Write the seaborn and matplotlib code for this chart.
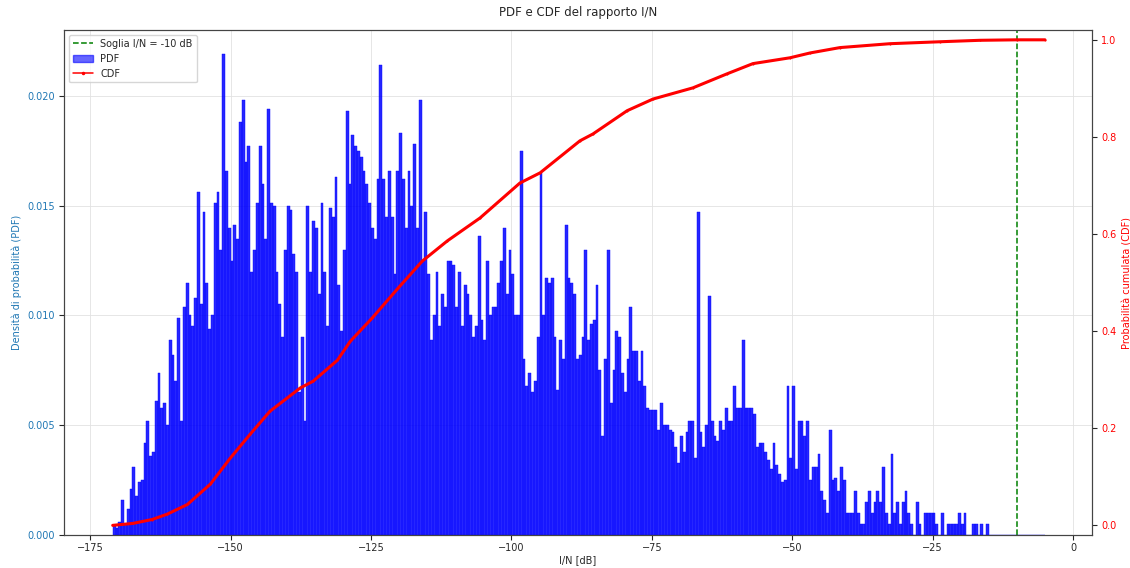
import numpy as np
import pandas as pd
import matplotlib
matplotlib.use("Agg")
import matplotlib.pyplot as plt
from matplotlib.lines import Line2D
from matplotlib.patches import Patch
import seaborn as sns

# Histogram of I/N: bins of 0.5 dB starting at -171 dB (density values)
bin_start = -171.0
bin_width = 0.5
pdf_density = [
    0.0004, 0.0003, 0.0006, 0.0016, 0.0005, 0.0012, 0.0021, 0.0031, 0.0018, 0.0024,
    0.0025, 0.0042, 0.0052, 0.0036, 0.0038, 0.0061, 0.0074, 0.0058, 0.0060, 0.0050,
    0.0089, 0.0082, 0.0070, 0.0099, 0.0052, 0.0104, 0.0115, 0.0100, 0.0095, 0.0108,
    0.0156, 0.0105, 0.0147, 0.0115, 0.0094, 0.0100, 0.0151, 0.0156, 0.0130, 0.0219,
    0.0166, 0.0140, 0.0125, 0.0141, 0.0135, 0.0188, 0.0198, 0.0170, 0.0177, 0.0120,
    0.0130, 0.0151, 0.0177, 0.0160, 0.0135, 0.0194, 0.0151, 0.0150, 0.0120, 0.0105,
    0.0090, 0.0130, 0.0150, 0.0148, 0.0128, 0.0120, 0.0065, 0.0090, 0.0052, 0.0150,
    0.0120, 0.0143, 0.0140, 0.0110, 0.0151, 0.0120, 0.0095, 0.0149, 0.0145, 0.0163,
    0.0114, 0.0093, 0.0130, 0.0193, 0.0160, 0.0182, 0.0177, 0.0175, 0.0172, 0.0166,
    0.0160, 0.0151, 0.0140, 0.0135, 0.0162, 0.0214, 0.0162, 0.0145, 0.0166, 0.0145,
    0.0119, 0.0166, 0.0183, 0.0162, 0.0140, 0.0166, 0.0150, 0.0178, 0.0140, 0.0198,
    0.0125, 0.0147, 0.0119, 0.0089, 0.0100, 0.0120, 0.0095, 0.0110, 0.0104, 0.0125,
    0.0125, 0.0123, 0.0104, 0.0120, 0.0095, 0.0114, 0.0110, 0.0100, 0.0090, 0.0095,
    0.0136, 0.0098, 0.0089, 0.0125, 0.0100, 0.0104, 0.0104, 0.0115, 0.0125, 0.0140,
    0.0110, 0.0130, 0.0119, 0.0100, 0.0100, 0.0175, 0.0080, 0.0068, 0.0074, 0.0065,
    0.0070, 0.0090, 0.0165, 0.0100, 0.0117, 0.0115, 0.0117, 0.0090, 0.0066, 0.0089,
    0.0080, 0.0141, 0.0117, 0.0115, 0.0110, 0.0080, 0.0082, 0.0090, 0.0130, 0.0089,
    0.0096, 0.0098, 0.0114, 0.0075, 0.0045, 0.0080, 0.0130, 0.0060, 0.0075, 0.0093,
    0.0090, 0.0074, 0.0065, 0.0080, 0.0104, 0.0084, 0.0084, 0.0070, 0.0084, 0.0068,
    0.0058, 0.0057, 0.0057, 0.0057, 0.0048, 0.0060, 0.0050, 0.0050, 0.0048, 0.0047,
    0.0040, 0.0033, 0.0045, 0.0038, 0.0047, 0.0052, 0.0052, 0.0035, 0.0147, 0.0047,
    0.0040, 0.0050, 0.0109, 0.0052, 0.0045, 0.0043, 0.0052, 0.0048, 0.0058, 0.0052,
    0.0052, 0.0068, 0.0058, 0.0058, 0.0089, 0.0058, 0.0058, 0.0058, 0.0055, 0.0040,
    0.0042, 0.0042, 0.0038, 0.0034, 0.0030, 0.0042, 0.0032, 0.0028, 0.0024, 0.0025,
    0.0068, 0.0035, 0.0068, 0.0030, 0.0052, 0.0052, 0.0045, 0.0052, 0.0025, 0.0031,
    0.0031, 0.0037, 0.0020, 0.0016, 0.0010, 0.0048, 0.0025, 0.0026, 0.0020, 0.0031,
    0.0025, 0.0010, 0.0010, 0.0010, 0.0020, 0.0010, 0.0005, 0.0005, 0.0015, 0.0020,
    0.0010, 0.0015, 0.0020, 0.0015, 0.0031, 0.0010, 0.0005, 0.0037, 0.0010, 0.0015,
    0.0005, 0.0015, 0.0020, 0.0010, 0.0005, 0.0000, 0.0015, 0.0005, 0.0000, 0.0010,
    0.0010, 0.0010, 0.0010, 0.0005, 0.0000, 0.0010, 0.0000, 0.0005, 0.0005, 0.0005,
    0.0005, 0.0010, 0.0005, 0.0010, 0.0000, 0.0000, 0.0005, 0.0005, 0.0000, 0.0005,
    0.0000, 0.0005, 0.0000, 0.0000, 0.0000, 0.0000, 0.0000, 0.0000, 0.0000, 0.0000,
    0.0000, 0.0000, 0.0000, 0.0000, 0.0000, 0.0000, 0.0000, 0.0000, 0.0000, 0.0000,
    0.0000, 0.0000,
]

# Empirical CDF of I/N
cdf_x = [-171.0, -167.4, -164.0, -161.3, -157.7, -153.6, -150.1, -146.5, -143.0,
         -137.6, -135.3, -131.0, -128.7, -124.8, -120.3, -115.9, -111.4, -105.6,
         -98.5, -94.9, -87.8, -85.5, -79.4, -74.8, -67.7, -61.6, -57.0, -50.4,
         -46.8, -41.5, -32.6, -23.7, -16.6, -10.0, -5.0]
cdf_y = [0.000, 0.004, 0.012, 0.023, 0.043, 0.085, 0.138, 0.188, 0.235,
         0.283, 0.297, 0.340, 0.379, 0.427, 0.487, 0.544, 0.586, 0.633,
         0.705, 0.726, 0.792, 0.806, 0.854, 0.878, 0.901, 0.930, 0.951, 0.963,
         0.973, 0.984, 0.992, 0.996, 0.999, 1.000, 1.000]

threshold_db = -10

n_bins = len(pdf_density)
bin_end = bin_start + bin_width * n_bins
centers = bin_start + bin_width * (np.arange(n_bins) + 0.5)
hist_df = pd.DataFrame({"IN": centers, "pdf": pdf_density})
cdf_df = pd.DataFrame({"IN": cdf_x, "cdf": cdf_y})

sns.set_style("ticks")
plt.rcParams["font.family"] = ["DejaVu Sans"]
plt.rcParams["font.size"] = 7

pdf_col = "#1f77b4"
cdf_col = "red"

fig, ax1 = plt.subplots(figsize=(11.3, 5.68), dpi=100)
fig.subplots_adjust(left=0.057, right=0.966, top=0.947, bottom=0.058)

sns.histplot(data=hist_df, x="IN", weights="pdf", binwidth=bin_width,
             binrange=(bin_start, bin_end), stat="count",
             color="blue", alpha=0.85, edgecolor="blue", linewidth=0.3, ax=ax1)
ax1.axvline(threshold_db, color="green", linestyle="--", linewidth=1.1)
ax1.set_xlabel("I/N [dB]", fontsize=7, labelpad=1)
ax1.set_ylabel("Densità di probabilità (PDF)", color=pdf_col, fontsize=7)
ax1.tick_params(axis="y", labelcolor=pdf_col, labelsize=7)
ax1.tick_params(axis="x", labelsize=7, pad=2.5)
ax1.yaxis.set_major_formatter(matplotlib.ticker.FormatStrFormatter("%.3f"))
ax1.grid(True, color="#e2e2e2", linewidth=0.6)
ax1.set_axisbelow(True)

ax2 = ax1.twinx()
sns.lineplot(data=cdf_df, x="IN", y="cdf", color=cdf_col, linewidth=2.2,
             marker=".", markersize=1.5, markeredgecolor=cdf_col, ax=ax2)
ax2.set_ylim(-0.02, 1.02)
ax2.set_ylabel("Probabilità cumulata (CDF)", color=cdf_col, fontsize=7)
ax2.tick_params(axis="y", labelcolor=cdf_col, labelsize=7)
ax2.grid(False)
ax1.set_xlim(-179.6, 3.3)

for ax in (ax1, ax2):
    for s in ax.spines.values():
        s.set_visible(True)
        s.set_color("#444444")
        s.set_linewidth(0.8)

ax1.set_title("PDF e CDF del rapporto I/N", fontsize=8.5, pad=10)

handles = [
    Line2D([], [], color="green", linestyle="--", linewidth=1.1),
    Patch(facecolor="blue", alpha=0.6, edgecolor="blue"),
    Line2D([], [], color=cdf_col, linewidth=1.1, marker=".", markersize=3),
]
labels = [f"Soglia I/N = {threshold_db} dB", "PDF", "CDF"]
ax2.legend(handles, labels, loc="upper left", fontsize=7, frameon=True)

fig.savefig("out.png", dpi=100)
